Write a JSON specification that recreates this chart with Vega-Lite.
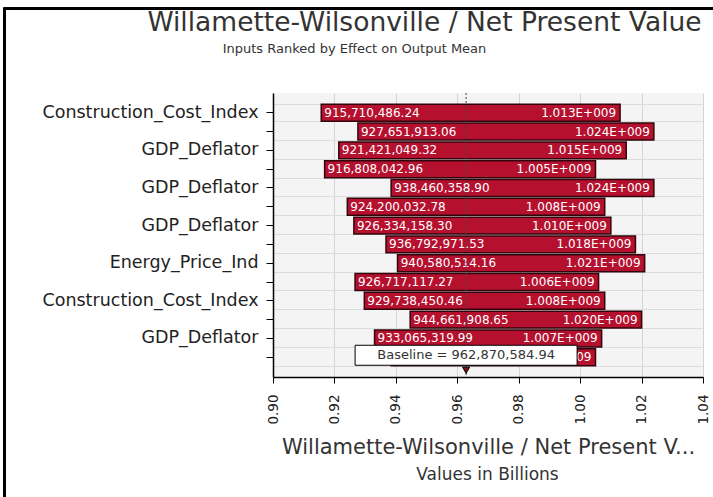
{
  "$schema": "https://vega.github.io/schema/vega-lite/v6.json",
  "width": 430,
  "height": 284,
  "autosize": {"type": "none"},
  "padding": {"left": 273, "top": 93, "right": 10, "bottom": 120},
  "background": "white",
  "config": {
    "font": "DejaVu Sans",
    "view": {"fill": "#f4f4f4", "stroke": null}
  },
  "datasets": {
    "tornado": [
      {"rank": 1, "input": "Construction_Cost_Index", "low": 915710486.24, "high": 1013000000},
      {"rank": 2, "input": "", "low": 927651913.06, "high": 1024000000},
      {"rank": 3, "input": "GDP_Deflator", "low": 921421049.32, "high": 1015000000},
      {"rank": 4, "input": "", "low": 916808042.96, "high": 1005000000},
      {"rank": 5, "input": "GDP_Deflator", "low": 938460358.90, "high": 1024000000},
      {"rank": 6, "input": "", "low": 924200032.78, "high": 1008000000},
      {"rank": 7, "input": "GDP_Deflator", "low": 926334158.30, "high": 1010000000},
      {"rank": 8, "input": "", "low": 936792971.53, "high": 1018000000},
      {"rank": 9, "input": "Energy_Price_Ind", "low": 940580514.16, "high": 1021000000},
      {"rank": 10, "input": "", "low": 926717117.27, "high": 1006000000},
      {"rank": 11, "input": "Construction_Cost_Index", "low": 929738450.46, "high": 1008000000},
      {"rank": 12, "input": "", "low": 944661908.65, "high": 1020000000},
      {"rank": 13, "input": "GDP_Deflator", "low": 933065319.99, "high": 1007000000},
      {"rank": 14, "input": "", "low": 938500000.00, "high": 1005000000}
    ],
    "baseline": [
      {"name": "Baseline", "baseline": 962870584.94}
    ]
  },
  "layer": [
    {
      "resolve": {"axis": {"y": "independent"}},
      "layer": [
        {
          "data": {"name": "tornado"},
          "transform": [
            {"calculate": "format(datum.high / 1e9, '.3f') + 'E+009'", "as": "high_label"}
          ],
          "encoding": {
            "y": {
              "field": "rank",
              "type": "ordinal",
              "scale": {"paddingInner": 0.1, "paddingOuter": 0.6},
              "axis": {
                "orient": "left",
                "grid": false,
                "domainColor": "#000000",
                "domainWidth": 1.5,
                "tickColor": "#000000",
                "tickSize": 7,
                "labelFontSize": 17.5,
                "labelColor": "#222222",
                "labelPadding": 8,
                "labelLimit": 320,
                "labelExpr": "data('tornado')[datum.value - 1].input",
                "title": "Willamette-Wilsonville / Net Present Value",
                "titleAngle": 0,
                "titleX": 151,
                "titleY": -71,
                "titleAlign": "center",
                "titleBaseline": "middle",
                "titleFontSize": 26.5,
                "titleFontWeight": "normal",
                "titleColor": "#333333",
                "titleLimit": 700
              }
            }
          },
          "layer": [
            {
              "mark": {"type": "bar", "fill": "#b5112f", "stroke": "#32050c", "strokeWidth": 1.5},
              "encoding": {
                "x": {
                  "field": "low",
                  "type": "quantitative",
                  "scale": {"domain": [900000000, 1040000000], "nice": false, "zero": false},
                  "axis": {
                    "values": [900000000, 920000000, 940000000, 960000000, 980000000, 1000000000, 1020000000, 1040000000],
                    "labelExpr": "format(datum.value / 1e9, '.2f')",
                    "labelAngle": -90,
                    "labelFontSize": 13.5,
                    "labelColor": "#222222",
                    "labelPadding": 11,
                    "tickSize": 6,
                    "tickColor": "#000000",
                    "domainColor": "#000000",
                    "domainWidth": 1.5,
                    "grid": true,
                    "gridColor": "#d4d4d4",
                    "title": "Willamette-Wilsonville / Net Present V...",
                    "titleX": 215,
                    "titleY": 70,
                    "titleAlign": "center",
                    "titleBaseline": "middle",
                    "titleFontSize": 21,
                    "titleFontWeight": "normal",
                    "titleColor": "#333333",
                    "titleLimit": 600
                  }
                },
                "x2": {"field": "high"}
              }
            },
            {
              "mark": {"type": "text", "align": "left", "baseline": "middle", "dx": 3, "fontSize": 12, "color": "#ffffff"},
              "encoding": {
                "x": {"field": "low", "type": "quantitative"},
                "text": {"field": "low", "type": "quantitative", "format": ",.2f"}
              }
            },
            {
              "mark": {"type": "text", "align": "right", "baseline": "middle", "dx": -4, "fontSize": 12, "color": "#ffffff"},
              "encoding": {
                "x": {"field": "high", "type": "quantitative"},
                "text": {"field": "high_label"}
              }
            }
          ]
        },
        {
          "data": {"name": "baseline"},
          "transform": [
            {"calculate": "datum.name + ' = ' + format(datum.baseline, ',.2f')", "as": "baseline_label"}
          ],
          "layer": [
            {
              "mark": {"type": "rule", "color": "#444444", "strokeDash": [2, 2], "strokeWidth": 1},
              "encoding": {
                "x": {"field": "baseline", "type": "quantitative"}
              }
            },
            {
              "mark": {"type": "bar", "fill": "#ffffff", "stroke": "#000000", "strokeWidth": 1, "height": 20, "xOffset": -111, "x2Offset": 111, "yOffset": -2},
              "encoding": {
                "x": {"field": "baseline", "type": "quantitative"},
                "x2": {"field": "baseline"},
                "y": {
                  "datum": 14,
                  "type": "ordinal",
                  "axis": {
                    "orient": "left",
                    "tickBand": "extent",
                    "grid": true,
                    "gridColor": "#dcdcdc",
                    "ticks": false,
                    "labels": false,
                    "domain": false,
                    "title": null
                  }
                }
              }
            },
            {
              "mark": {"type": "text", "align": "center", "baseline": "middle", "fontSize": 13, "color": "#333333", "yOffset": -2},
              "encoding": {
                "x": {"field": "baseline", "type": "quantitative"},
                "y": {"datum": 14, "type": "ordinal"},
                "text": {"field": "baseline_label"}
              }
            },
            {
              "mark": {"type": "point", "shape": "triangle-down", "size": 50, "filled": true, "fill": "#7a1020", "stroke": "#000000", "strokeWidth": 1, "opacity": 1, "yOffset": 13},
              "encoding": {
                "x": {"field": "baseline", "type": "quantitative"},
                "y": {"datum": 14, "type": "ordinal"}
              }
            }
          ]
        }
      ]
    },
    {
      "data": {"name": "baseline"},
      "mark": {"type": "point", "opacity": 0},
      "encoding": {
        "x": {
          "field": "baseline",
          "type": "quantitative",
          "scale": {"domain": [900000000, 1040000000], "range": [-270, 445], "nice": false, "zero": false},
          "axis": {
            "orient": "top",
            "offset": 85,
            "domainColor": "#000000",
            "domainWidth": 3,
            "ticks": false,
            "labels": false,
            "grid": false,
            "title": "Inputs Ranked by Effect on Output  Mean",
            "titleX": 81,
            "titleY": 40,
            "titleAlign": "center",
            "titleBaseline": "middle",
            "titleFontSize": 13,
            "titleFontWeight": "normal",
            "titleColor": "#333333"
          }
        },
        "y": {
          "field": "baseline",
          "type": "quantitative",
          "scale": {"domain": [900000000, 1040000000], "range": [410, -86], "nice": false, "zero": false},
          "axis": {
            "orient": "left",
            "offset": 269,
            "domainColor": "#000000",
            "domainWidth": 3,
            "ticks": false,
            "labels": false,
            "grid": false,
            "title": "Values in Billions",
            "titleAngle": 0,
            "titleX": 483,
            "titleY": 381,
            "titleAlign": "center",
            "titleBaseline": "middle",
            "titleFontSize": 17,
            "titleFontWeight": "normal",
            "titleColor": "#333333"
          }
        }
      }
    }
  ],
  "resolve": {"scale": {"x": "independent", "y": "independent"}}
}
